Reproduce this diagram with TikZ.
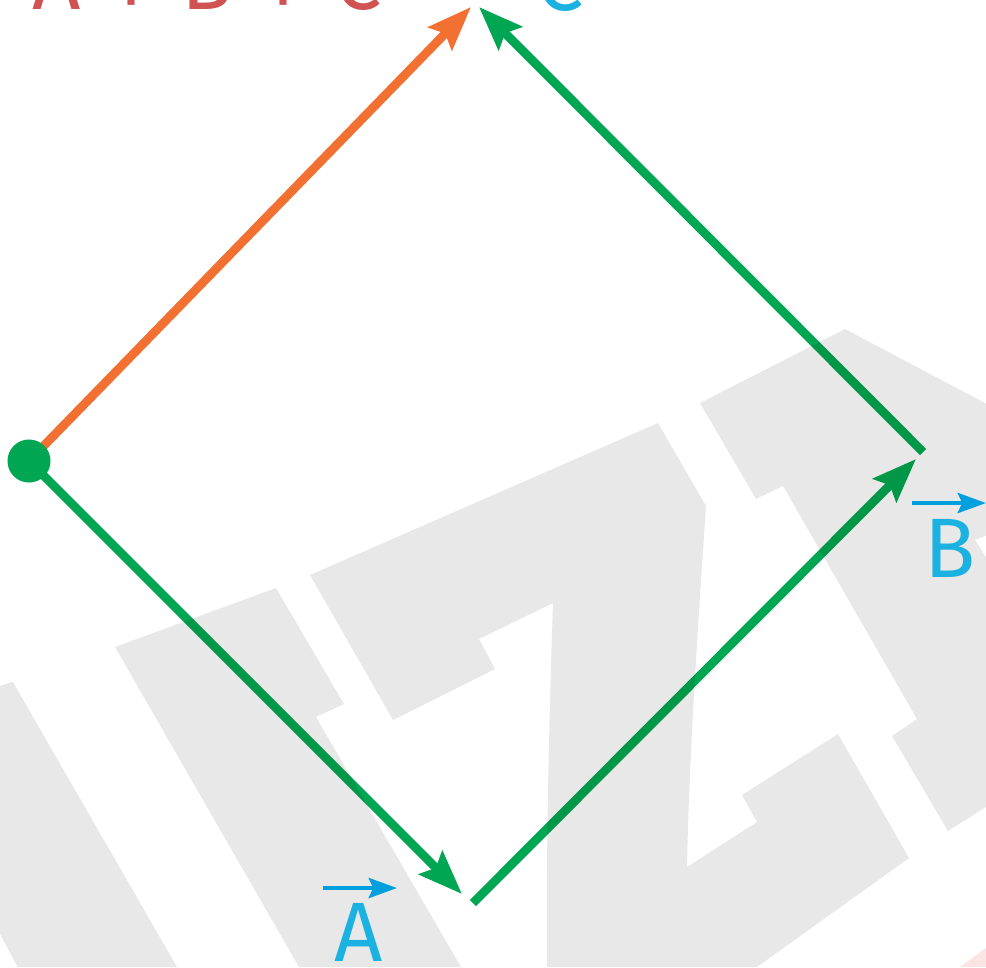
\documentclass[tikz,border=0pt]{standalone}
\usepackage{fontspec}
\setmainfont{Fira Sans}
\usepackage{tikz}
\usetikzlibrary{arrows.meta}
\definecolor{vecgreen}{RGB}{0,166,81}
\definecolor{sumorange}{RGB}{241,112,50}
\definecolor{sumred}{RGB}{209,82,83}
\definecolor{tagcyan}{RGB}{27,177,225}
\definecolor{arrcyan}{RGB}{0,159,221}
\definecolor{logogray}{RGB}{232,232,232}
\definecolor{logopink}{RGB}{252,228,228}
\tikzset{>={Stealth[length=25pt,width=18.5pt,inset=4pt]}}
\newcommand\sumgap{\hspace{0.35em}}

\begin{document}
\begin{tikzpicture}[x=0.02cm,y=-0.02cm,
    vec/.style={->,line width=5pt,vecgreen},
    sum/.style={->,line width=5pt,sumorange},
    tag/.style={text=tagcyan,font=\fontsize{48}{52}\selectfont,inner sep=0pt,anchor=base},
    tagarrow/.style={-{Stealth[length=16pt,width=11.3pt,inset=2.5pt]},line width=2.8pt,arrcyan},
    logo/.style={fill=logogray,blend mode=multiply}]
    \useasboundingbox (0,0) rectangle (986,967);
    \clip (0,0) rectangle (986,967);
    % set up the points
    \coordinate (O) at (29,461);
    \coordinate (Atip) at (462,894);
    \coordinate (Bfoot) at (473,903);
    \coordinate (Btip) at (916,459);
    \coordinate (Cfoot) at (923,452);
    \coordinate (Ctip) at (479,7);
    \coordinate (Stip) at (471,7);
    % draw the vectors
    \draw[vec] (O) -- (Atip);
    \draw[vec] (Bfoot) -- (Btip);
    \draw[vec] (Cfoot) -- (Ctip);
    \draw[sum] (O) -- (Stip);
    \node[circle,fill=vecgreen,minimum size=24.5pt,inner sep=0pt] (start) at (O) {};
    % the big letters in the back
    \fill[logo] (0,686) -- (12.6,681.5) -- (177,967) -- (17.6,967) -- (0,934) -- cycle;
    \fill[logo] (115,647) -- (276,588) -- (344,704) -- (316,717) -- (461,967) -- (299,967) -- cycle;
    \fill[logo] (310,575) -- (658,423) -- (706,506) .. controls (697,640) and (689,760) .. (687,867)
        -- (757,822) -- (742,795) -- (838,734) -- (909,858) -- (757,967) -- (547,967)
        .. controls (546,850) and (549,720) .. (553,603) -- (479,639) -- (495,669) -- (393,720) -- cycle;
    \fill[logo] (700,403) -- (845,329) -- (1000,411) -- (1000,530) -- (975,540) -- (1000,579)
        -- (1000,798) -- (948,831) -- (892,736) -- (917,719) -- (783,486) -- (756,499) -- cycle;
    \fill[logopink] (960,967) -- (990,945) -- (990,967) -- cycle;
    % names of the vectors
    \node[tag] (labA) at (359,961) {A};
    \node[tag] (labB) at (950,577) {B};
    \node[tag] (labC) at (560,10) {C};
    \node[tag,text=sumred,anchor=base west] (labS) at (32,9.5)
        {A\sumgap\raisebox{-0.1em}{+}\sumgap B\sumgap\raisebox{-0.1em}{+}\sumgap C};
    \coordinate (arrA1) at (323,888);
    \coordinate (arrA2) at (397,888);
    \coordinate (arrB1) at (912,503);
    \coordinate (arrB2) at (986,503);
    \draw[tagarrow] (arrA1) -- (arrA2);
    \draw[tagarrow] (arrB1) -- (arrB2);
\end{tikzpicture}
\end{document}
